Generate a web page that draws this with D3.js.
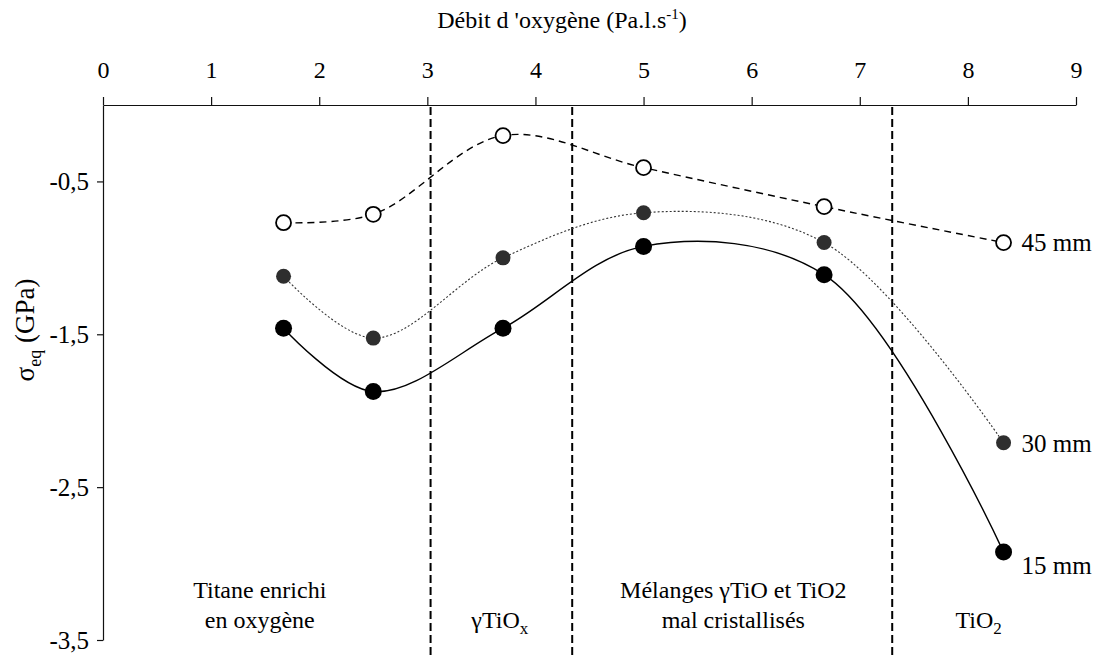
<!DOCTYPE html>
<html>
<head>
<meta charset="utf-8">
<script src="https://cdn.jsdelivr.net/npm/d3@7"></script>
<style>
  body { margin: 0; background: #fff; }
</style>
</head>
<body>
<svg id="chart" width="1107" height="656" style="font-family: 'Liberation Serif', 'DejaVu Serif', serif;"></svg>
<script>
// oxygen flow values (Pa.l.s-1)
let flow = [1.67, 2.5, 3.7, 5, 6.67, 8.33];

// equivalent stress (GPa) per distance
let s45 = [-0.77, -0.715, -0.20, -0.41, -0.665, -0.90];
let s30 = [-1.12, -1.525, -1.0, -0.705, -0.90, -2.21];
let s15 = [-1.46, -1.875, -1.46, -0.925, -1.11, -2.925];

let xTicks = [0, 1, 2, 3, 4, 5, 6, 7, 8, 9];
let yTicks = [-0.5, -1.5, -2.5, -3.5];

// phase boundaries along the flow axis
let boundaries = [3.03, 4.34, 7.3];

// phase labels: centre on the flow axis, lines of text
let phaseX = [1.45, 3.67, 5.83, 8.1];
let phaseLines = [
  ["Titane enrichi", "en oxygène"],
  ["", "γTiO|x"],
  ["Mélanges γTiO et TiO2", "mal cristallisés"],
  ["", "TiO|2"]
];

let height = 656;
let width = 1107;
let margin = ({top: 105, right: 31, bottom: 16, left: 103});
let serif = "'Liberation Serif', 'DejaVu Serif', serif";

let svg = d3.select("#chart");

let xScale = d3.scaleLinear()
    .domain([0, 9])
    .range([margin.left, width - margin.right]);

let yScale = d3.scaleLinear()
    .domain([0, -3.5])
    .range([margin.top, 640]);

// top axis
let xAxis = d3.axisTop(xScale)
    .tickValues(xTicks)
    .tickSize(8)
    .tickSizeOuter(0)
    .tickPadding(19)
    .tickFormat(d3.format("d"));

svg.append("g")
    .attr("transform", "translate(0," + margin.top + ")")
    .call(xAxis)
    .attr("font-family", serif)
    .attr("font-size", 24)
    .call(g => g.selectAll("text").attr("fill", "#000"))
    .call(g => g.selectAll("path, line").attr("stroke", "#111").attr("stroke-width", 1.2));

// left axis
let yAxis = d3.axisLeft(yScale)
    .tickValues(yTicks)
    .tickSize(6)
    .tickSizeOuter(0)
    .tickPadding(8)
    .tickFormat(d => d.toFixed(1).replace(".", ","));

svg.append("g")
    .attr("transform", "translate(" + margin.left + ",0)")
    .call(yAxis)
    .attr("font-family", serif)
    .attr("font-size", 25)
    .call(g => g.selectAll("text").attr("fill", "#000"))
    .call(g => g.selectAll("path, line").attr("stroke", "#111").attr("stroke-width", 1.2));

// axis titles
let xTitle = svg.append("text")
    .attr("x", 562)
    .attr("y", 28)
    .attr("text-anchor", "middle")
    .attr("font-family", serif)
    .attr("font-size", 24);
xTitle.append("tspan").text("Débit d 'oxygène (Pa.l.s");
xTitle.append("tspan").attr("dy", -9).attr("font-size", 15).text("-1");
xTitle.append("tspan").attr("dy", 9).text(")");

let yTitle = svg.append("text")
    .attr("transform", "translate(34,330) rotate(-90)")
    .attr("text-anchor", "middle")
    .attr("font-family", serif)
    .attr("font-size", 27);
yTitle.append("tspan").text("σ");
yTitle.append("tspan").attr("dy", 7).attr("font-size", 18).text("eq");
yTitle.append("tspan").attr("dy", -7).text(" (GPa)");

// phase boundaries
svg.selectAll(".boundary")
    .data(boundaries)
    .enter()
    .append("line")
    .attr("class", "boundary")
    .attr("x1", d => xScale(d))
    .attr("x2", d => xScale(d))
    .attr("y1", margin.top + 2)
    .attr("y2", height)
    .attr("stroke", "#000")
    .attr("stroke-width", 2)
    .attr("stroke-dasharray", "8,4");

// phase labels (a "|" marks a subscript)
phaseLines.forEach(function(lines, i) {
  lines.forEach(function(line, j) {
    if (line == "") return;
    let t = svg.append("text")
        .attr("x", xScale(phaseX[i]))
        .attr("y", 598 + j * 30)
        .attr("text-anchor", "middle")
        .attr("font-family", serif)
        .attr("font-size", 24);
    let parts = line.split("|");
    t.append("tspan").text(parts[0]);
    if (parts.length > 1) {
      t.append("tspan").attr("dy", 6).attr("font-size", 17).text(parts[1]);
    }
  });
});

let line = d3.line()
    .x((d, i) => xScale(flow[i]))
    .y(d => yScale(d))
    .curve(d3.curveCatmullRom.alpha(0.5));

let series = [
  {name: "45 mm", values: s45, dash: "7,5", width: 1.4, color: "#000", fill: "#fff", r: 7.5, stroke: 1.8, labelDy: 0},
  {name: "30 mm", values: s30, dash: "2,2", width: 1.1, color: "#333", fill: "#2e2e2e", r: 7.5, stroke: 0, labelDy: 0},
  {name: "15 mm", values: s15, dash: null, width: 1.4, color: "#000", fill: "#000", r: 8.5, stroke: 0, labelDy: 13}
];

series.forEach(function(s) {
  svg.append("path")
      .datum(s.values)
      .attr("d", line)
      .attr("fill", "none")
      .attr("stroke", s.color)
      .attr("stroke-width", s.width)
      .attr("stroke-dasharray", s.dash);

  svg.selectAll(null)
      .data(s.values)
      .enter()
      .append("circle")
      .attr("cx", (d, i) => xScale(flow[i]))
      .attr("cy", d => yScale(d))
      .attr("r", s.r)
      .attr("fill", s.fill)
      .attr("stroke", s.stroke ? "#000" : "none")
      .attr("stroke-width", s.stroke);

  let last = s.values.length - 1;
  svg.append("text")
      .attr("x", xScale(flow[last]) + 18)
      .attr("y", yScale(s.values[last]) + s.labelDy)
      .attr("dy", "0.35em")
      .attr("font-family", serif)
      .attr("font-size", 25)
      .text(s.name);
});
</script>
</body>
</html>
